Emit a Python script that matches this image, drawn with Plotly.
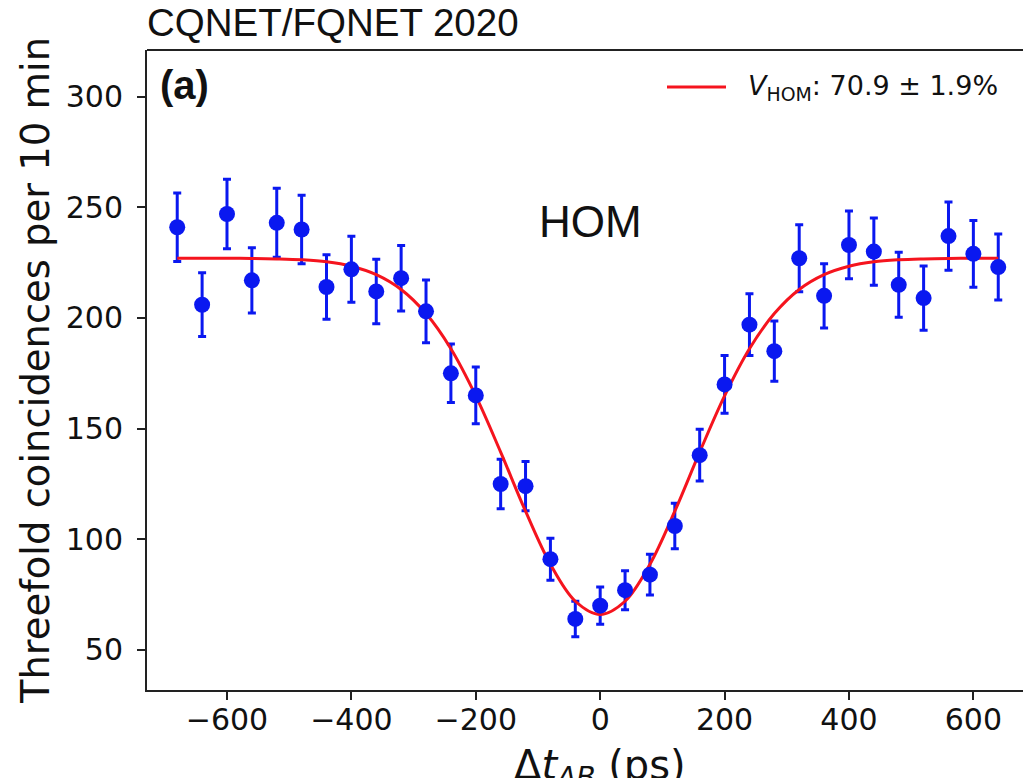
import plotly.graph_objects as go

# ---- data ----
delay_ps = [-680, -640, -600, -560, -520, -480, -440, -400, -360, -320, -280, -240,
            -200, -160, -120, -80, -40, 0, 40, 80, 120, 160, 200, 240, 280, 320,
            360, 400, 440, 480, 520, 560, 600, 640]
counts = [241, 206, 247, 217, 243, 240, 214, 222, 212, 218, 203, 175,
          165, 125, 124, 91, 64, 70, 77, 84, 106, 138, 170, 197, 185, 227,
          210, 233, 230, 215, 209, 237, 229, 223]
count_err = [15.5, 14.4, 15.7, 14.7, 15.6, 15.5, 14.6, 14.9, 14.6, 14.8, 14.2, 13.2,
             12.8, 11.2, 11.1, 9.5, 8.0, 8.4, 8.8, 9.2, 10.3, 11.7, 13.0, 14.0, 13.6, 15.1,
             14.5, 15.3, 15.2, 14.7, 14.5, 15.4, 15.1, 14.9]

fit_x = [-680, -640, -600, -560, -520, -480, -440, -400, -360, -320, -280, -240,
         -200, -160, -120, -80, -40, 0, 40, 80, 120, 160, 200, 240, 280, 320,
         360, 400, 440, 480, 520, 560, 600, 640]
fit_y = [227.0, 227.0, 227.0, 226.9, 226.7, 226.3, 225.4, 223.4, 219.6, 212.9, 202.0, 186.1,
         164.8, 139.4, 112.7, 88.7, 72.0, 66.0, 72.0, 88.7, 112.7, 139.4, 164.8, 186.1, 202.0, 212.9,
         219.6, 223.4, 225.4, 226.3, 226.7, 226.9, 227.0, 227.0]

x_ticks = [-600, -400, -200, 0, 200, 400, 600]
y_ticks = [50, 100, 150, 200, 250, 300]

title_text = "CQNET/FQNET 2020"
legend_text = "<i>V</i><sub>HOM</sub>: 70.9 ± 1.9%"

BLUE = "#0a18f0"
RED = "#f5141e"
W, H = 1023, 778
L, R, T, B = 147, 0, 50, 88

fig = go.Figure()

# error bars (under the fit line)
fig.add_trace(go.Scatter(
    x=delay_ps, y=counts, mode="markers",
    marker=dict(color="rgba(0,0,0,0)", size=1),
    error_y=dict(type="data", array=count_err, visible=True,
                 color=BLUE, thickness=3, width=4),
    showlegend=False, hoverinfo="skip"))

# fit curve
fig.add_trace(go.Scatter(
    x=fit_x, y=fit_y, mode="lines",
    line=dict(color=RED, width=3, shape="spline", smoothing=1.0),
    showlegend=False))

# data markers
fig.add_trace(go.Scatter(
    x=delay_ps, y=counts, mode="markers",
    marker=dict(color=BLUE, size=16, line=dict(width=0)),
    showlegend=False))

def px_x(p):
    return (p - L) / (W - L - R)

def px_y(p):
    return (H - B - p) / (H - T - B)

tick_font = dict(family="DejaVu Sans", size=30, color="#111111")

fig.update_layout(
    width=W, height=H,
    margin=dict(l=L, r=R, t=T, b=B, autoexpand=False),
    paper_bgcolor="white", plot_bgcolor="white",
    showlegend=False,
    xaxis=dict(range=[-728.6, 679.8], tickvals=x_ticks,
               ticktext=[("−" + str(-v)) if v < 0 else str(v) for v in x_ticks],
               showgrid=False, zeroline=False,
               showline=True, linecolor="#222222", linewidth=2,
               ticks="outside", ticklen=8, tickwidth=1.5, tickcolor="#222222",
               tickfont=tick_font, ticklabelstandoff=-6),
    yaxis=dict(range=[31.9, 321.1], tickvals=y_ticks,
               showgrid=False, zeroline=False,
               showline=True, linecolor="#222222", linewidth=2,
               ticks="outside", ticklen=8, tickwidth=1.5, tickcolor="#222222",
               tickfont=tick_font, ticklabelstandoff=8,
               title=dict(text="Threefold coincidences per 10 min",
                          font=dict(family="DejaVu Sans", size=38.5, color="#111111"),
                          standoff=4)),
)

# top spine
fig.add_shape(type="line", xref="paper", yref="paper", x0=0, x1=1, y0=1, y1=1,
              line=dict(color="#222222", width=2))

# legend line
fig.add_shape(type="line", xref="paper", yref="paper",
              x0=px_x(667), x1=px_x(726), y0=px_y(87), y1=px_y(87),
              line=dict(color=RED, width=3))

annotations = [
    dict(text=title_text, xref="paper", yref="paper", x=px_x(145), y=px_y(23),
         xanchor="left", yanchor="middle", showarrow=False,
         font=dict(family="Liberation Sans", size=38.5, color="#111111")),
    dict(text="<b>(a)</b>", xref="paper", yref="paper", x=px_x(158), y=px_y(85),
         xanchor="left", yanchor="middle", showarrow=False,
         font=dict(family="Liberation Sans", size=40, color="#111111")),
    dict(text="HOM", xref="x", yref="y", x=-16, y=243.5,
         xanchor="center", yanchor="middle", showarrow=False,
         font=dict(family="Liberation Sans", size=44, color="#111111")),
    dict(text=legend_text, xref="paper", yref="paper", x=px_x(746), y=px_y(88),
         xanchor="left", yanchor="middle", showarrow=False,
         font=dict(family="DejaVu Sans", size=27, color="#111111")),
    dict(text="Δ<i>t</i><sub><i>AB</i></sub> (ps)", xref="x", yref="paper", x=0, y=px_y(768),
         xanchor="center", yanchor="middle", showarrow=False,
         font=dict(family="DejaVu Sans", size=40, color="#111111")),
]
fig.update_layout(annotations=annotations)

fig.write_html("out.html", config={"displayModeBar": False},
               post_script="document.body.style.margin='0';document.body.style.overflow='hidden';")
